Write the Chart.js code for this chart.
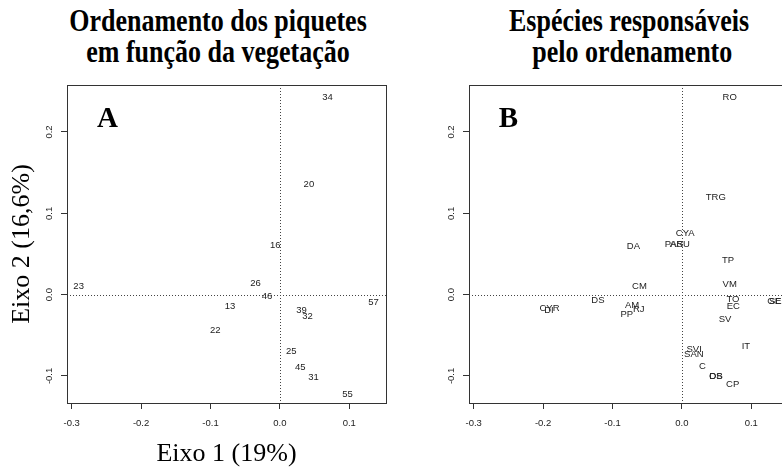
<!DOCTYPE html>
<html><head><meta charset="utf-8">
<script src="https://cdn.jsdelivr.net/npm/chart.js@4"></script>
<style>
html,body{margin:0;padding:0;background:#fff;width:782px;height:467px;overflow:hidden;position:relative}
canvas{position:absolute;top:0}
.t{position:absolute;width:420px;text-align:center;font:bold 26px 'Liberation Serif','Times New Roman',serif;line-height:26px;transform:scaleY(1.23);transform-origin:50% 0;white-space:pre;color:#000}
</style></head><body>
<div class="t" style="left:8px;top:5px">Ordenamento dos piquetes</div>
<div class="t" style="left:8px;top:36px">em função da vegetação</div>
<div class="t" style="left:419px;top:5px">Espécies responsáveis</div>
<div class="t" style="left:419px;top:36px"> pelo ordenamento</div>
<canvas id="cA" width="400" height="467" style="left:0px"></canvas>
<canvas id="cB" width="400" height="467" style="left:400px"></canvas>
<script>
// ---- data ----
const siteLabels = ['34','20','16','23','26','46','13','57','39','32','22','25','45','31','55'];
const siteX = [0.0687,0.0418,-0.0067,-0.2900,-0.0351,-0.0187,-0.0720,0.1350,0.0312,0.0399,-0.0932,0.0163,0.0293,0.0485,0.0975];
const siteY = [0.2423,0.1361,0.0611,0.0103,0.0135,-0.0016,-0.0139,-0.0090,-0.0189,-0.0262,-0.0443,-0.0693,-0.0898,-0.1021,-0.1222];

const speciesLabels = ['RO','TRG','CYA','PAS','ARU','DA','TP','VM','CM','DS','TO','EC','GE','SE','CYR','DI','AM','RJ','PP','SV','IT','SVI','SAN','C','DS','OB','CP'];
const speciesX = [0.0689,0.0488,0.0048,-0.0115,-0.0029,-0.0698,0.0665,0.0689,-0.0612,-0.1210,0.0736,0.0741,0.1330,0.1345,-0.1908,-0.1915,-0.0717,-0.0622,-0.0794,0.0622,0.0923,0.0177,0.0172,0.0297,0.0488,0.0490,0.0732];
const speciesY = [0.2421,0.1194,0.0748,0.0618,0.0618,0.0593,0.0425,0.0131,0.0106,-0.0065,-0.0057,-0.0143,-0.0078,-0.0078,-0.0168,-0.0192,-0.0131,-0.0180,-0.0249,-0.0307,-0.0642,-0.0675,-0.0736,-0.0888,-0.1002,-0.1000,-0.1104];

const xTicks = [-0.3,-0.2,-0.1,0.0,0.1];
const xTickLabels = ['-0.3','-0.2','-0.1','0.0','0.1'];
const yTicks = [-0.1,0.0,0.1,0.2];
const yTickLabels = ['-0.1','0.0','0.1','0.2'];
const xRange = [-0.3068, 0.1529];
const yRange = [-0.1333, 0.2578];
const xTitleA = 'Eixo 1 (19%)';
const yTitleA = 'Eixo 2 (16,6%)';

Chart.defaults.font.family = "'Liberation Sans', Arial, sans-serif";
Chart.defaults.font.size = 9.5;
Chart.defaults.color = '#222';

const labelPlugin = {
  id: 'pointLabels',
  beforeDatasetsDraw(chart) {
    const {ctx, chartArea: a, scales: {x, y}} = chart;
    ctx.save();
    ctx.strokeStyle = '#444';
    ctx.lineWidth = 1;
    ctx.setLineDash([1, 2]);
    const x0 = Math.round(x.getPixelForValue(0)) + 0.5;
    const y0 = Math.round(y.getPixelForValue(0)) + 0.5;
    ctx.beginPath();
    ctx.moveTo(x0, a.top); ctx.lineTo(x0, a.bottom);
    ctx.moveTo(a.left, y0); ctx.lineTo(a.right, y0);
    ctx.stroke();
    ctx.restore();
  },
  afterDatasetsDraw(chart) {
    const {ctx, chartArea: a} = chart;
    const o = chart.options.plugins.pointLabels;
    ctx.save();
    const meta = chart.getDatasetMeta(0);
    ctx.font = "9.5px 'Liberation Sans', Arial, sans-serif";
    ctx.fillStyle = '#222';
    ctx.textAlign = 'center';
    ctx.textBaseline = 'middle';
    meta.data.forEach((pt, i) => ctx.fillText(o.labels[i], pt.x, pt.y));
    // box
    ctx.strokeStyle = '#333';
    ctx.lineWidth = 1;
    ctx.strokeRect(Math.round(a.left) + 0.5, Math.round(a.top) + 0.5, Math.round(a.right - a.left), Math.round(a.bottom - a.top));
    // panel letter
    ctx.font = "bold 29px 'Liberation Serif', 'Times New Roman', serif";
    ctx.fillStyle = '#000';
    ctx.fillText(o.letter, a.left + o.letterDx, a.top + 35);
    ctx.restore();
  }
};

function makeChart(id, labels, xs, ys, cfg) {
  return new Chart(document.getElementById(id), {
    type: 'scatter',
    data: { datasets: [{ data: xs.map((v, i) => ({x: v, y: ys[i]})), pointRadius: 0, showLine: false }] },
    options: {
      responsive: false, animation: false, events: [],
      devicePixelRatio: 1,
      layout: { padding: { top: 85, right: cfg.padRight, left: 0, bottom: 0 } },
      plugins: { legend: {display: false}, tooltip: {enabled: false},
        pointLabels: { labels: labels, letter: cfg.letter, letterDx: cfg.letterDx } },
      scales: {
        x: {
          type: 'linear', min: xRange[0], max: xRange[1],
          afterBuildTicks: s => { s.ticks = xTicks.map(v => ({value: v})); },
          afterFit: s => { s.height = 64; },
          ticks: { padding: 9, autoSkip: false, maxRotation: 0, minRotation: 0,
            callback: (v, i) => xTickLabels[i] },
          grid: { display: true, drawOnChartArea: false, drawTicks: true, tickLength: 6, color: '#333' },
          border: { display: false },
          title: cfg.xTitle ? { display: true, text: cfg.xTitle, color: '#000',
            font: { family: "'Liberation Serif', 'Times New Roman', serif", size: 26, lineHeight: 1 },
            padding: { top: 0, bottom: 0 } } : { display: false }
        },
        y: {
          type: 'linear', min: yRange[0], max: yRange[1],
          afterBuildTicks: s => { s.ticks = yTicks.map(v => ({value: v})); },
          afterFit: s => { s.width = cfg.plotLeft; },
          ticks: { padding: 3, autoSkip: false, minRotation: 90, maxRotation: 90, crossAlign: 'center',
            callback: (v, i) => yTickLabels[i] },
          grid: { display: true, drawOnChartArea: false, drawTicks: true, tickLength: 6, color: '#333' },
          border: { display: false },
          title: cfg.yTitle ? { display: true, text: cfg.yTitle, color: '#000',
            font: { family: "'Liberation Serif', 'Times New Roman', serif", size: 26, lineHeight: 1 },
            padding: { top: 9, bottom: 0 } } : { display: false }
        }
      }
    },
    plugins: [labelPlugin]
  });
}

makeChart('cA', siteLabels, siteX, siteY, { xTitle: xTitleA, yTitle: yTitleA, plotLeft: 67, padRight: 14, letter: 'A', letterDx: 40.5 });
makeChart('cB', speciesLabels, speciesX, speciesY, { xTitle: null, yTitle: null, plotLeft: 69, padRight: 12, letter: 'B', letterDx: 39.5 });
</script>
</body></html>
